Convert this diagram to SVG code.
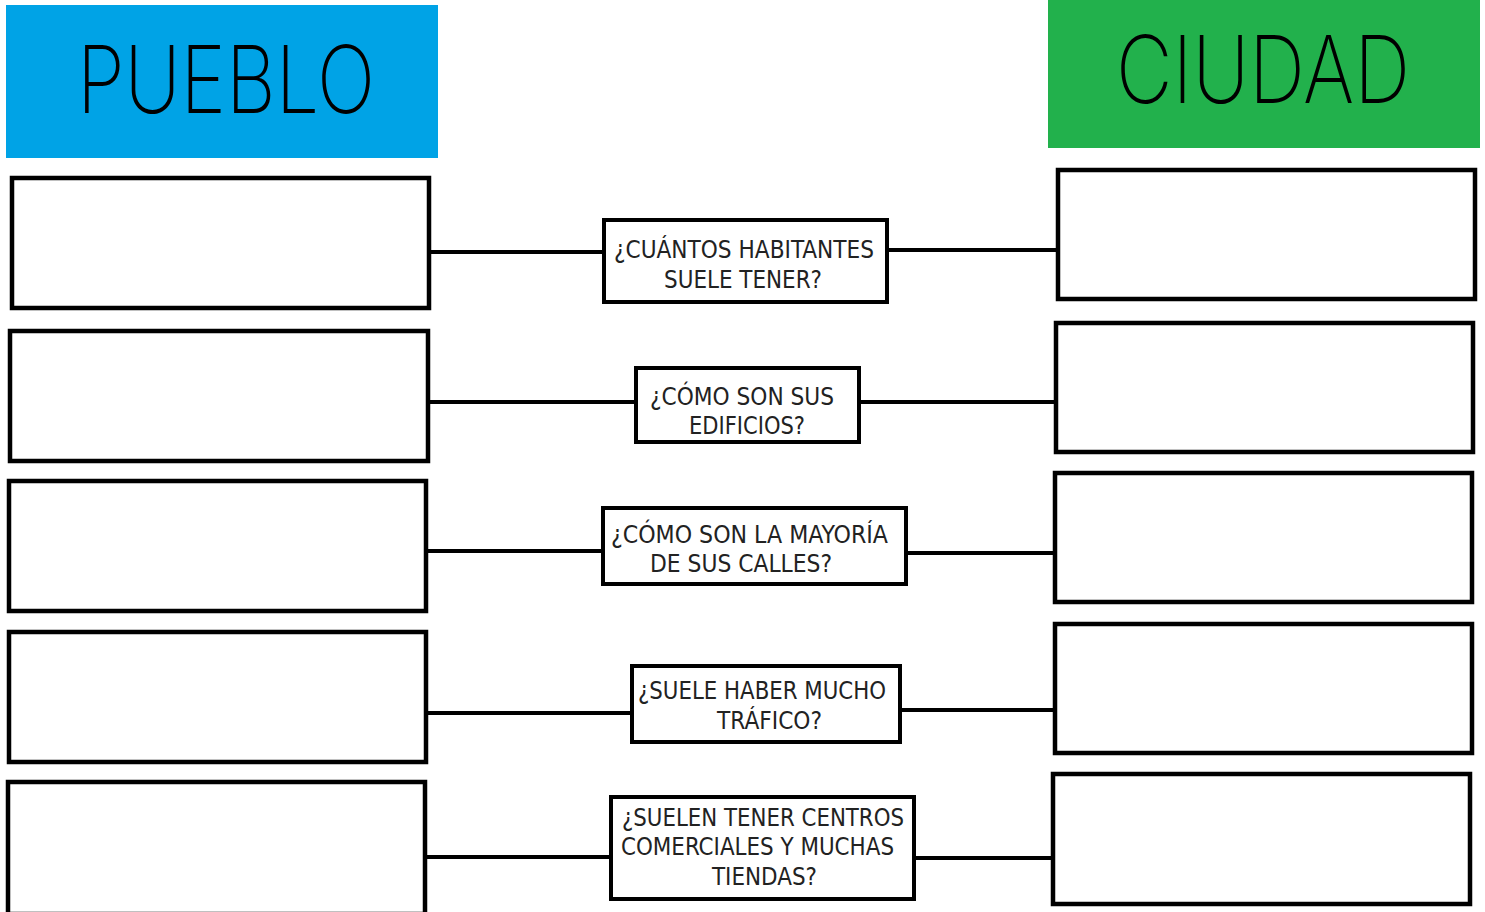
<svg xmlns="http://www.w3.org/2000/svg" width="1485" height="912" viewBox="0 0 1485 912">
<style>
.box{fill:#fff;stroke:#000;stroke-width:4.5}
.q{fill:#fff;stroke:#000;stroke-width:4}
.ln{stroke:#000;stroke-width:4;fill:none}
.t{font-family:"DejaVu Sans Condensed","DejaVu Sans","Liberation Sans",sans-serif;font-stretch:condensed;font-size:24px;fill:#222}
.h{font-family:Inter,"DejaVu Sans Condensed","Liberation Sans",sans-serif;font-weight:200;font-size:94px;fill:#000}
</style>
<rect width="1485" height="912" fill="#fff"/>
<g id="header-pueblo">
<rect x="6" y="5" width="432" height="153" fill="#00A3E6"/>
<text class="h" x="77" y="113" textLength="298" lengthAdjust="spacingAndGlyphs">PUEBLO</text>
</g>
<g id="header-ciudad">
<rect x="1048" y="0" width="432" height="148" fill="#22B14C"/>
<text class="h" x="1116" y="103" textLength="294" lengthAdjust="spacingAndGlyphs">CIUDAD</text>
</g>
<g id="connectors">
<line class="ln" x1="430" y1="252" x2="604" y2="252"/>
<line class="ln" x1="887" y1="250" x2="1058" y2="250"/>
<line class="ln" x1="428" y1="402" x2="636" y2="402"/>
<line class="ln" x1="859" y1="402" x2="1056" y2="402"/>
<line class="ln" x1="426" y1="551" x2="603" y2="551"/>
<line class="ln" x1="906" y1="553" x2="1060" y2="553"/>
<line class="ln" x1="426" y1="713" x2="632" y2="713"/>
<line class="ln" x1="900" y1="710" x2="1058" y2="710"/>
<line class="ln" x1="425" y1="857" x2="611" y2="857"/>
<line class="ln" x1="914" y1="858" x2="1052" y2="858"/>
</g>
<g id="pueblo-1"><rect class="box" x="12" y="178" width="417" height="130"/></g>
<g id="pueblo-2"><rect class="box" x="10" y="331" width="418" height="130"/></g>
<g id="pueblo-3"><rect class="box" x="9" y="481" width="417" height="130"/></g>
<g id="pueblo-4"><rect class="box" x="9" y="632" width="417" height="130"/></g>
<g id="pueblo-5"><rect class="box" x="8" y="782" width="417" height="132"/></g>
<g id="ciudad-1"><rect class="box" x="1058" y="170" width="417" height="129"/></g>
<g id="ciudad-2"><rect class="box" x="1056" y="323" width="417" height="129"/></g>
<g id="ciudad-3"><rect class="box" x="1055" y="473" width="417" height="129"/></g>
<g id="ciudad-4"><rect class="box" x="1055" y="624" width="417" height="129"/></g>
<g id="ciudad-5"><rect class="box" x="1053" y="774" width="417" height="130"/></g>
<g id="q1">
<rect class="q" x="604" y="220" width="283" height="82"/>
<text class="t" x="614" y="258" textLength="260" lengthAdjust="spacingAndGlyphs">¿CUÁNTOS HABITANTES</text>
<text class="t" x="664" y="288" textLength="158" lengthAdjust="spacingAndGlyphs">SUELE TENER?</text>
</g>
<g id="q2">
<rect class="q" x="636" y="368" width="223" height="74"/>
<text class="t" x="650" y="405" textLength="184" lengthAdjust="spacingAndGlyphs">¿CÓMO SON SUS</text>
<text class="t" x="689" y="434" textLength="116" lengthAdjust="spacingAndGlyphs">EDIFICIOS?</text>
</g>
<g id="q3">
<rect class="q" x="603" y="508" width="303" height="76"/>
<text class="t" x="611" y="543" textLength="277" lengthAdjust="spacingAndGlyphs">¿CÓMO SON LA MAYORÍA</text>
<text class="t" x="650" y="572" textLength="182" lengthAdjust="spacingAndGlyphs">DE SUS CALLES?</text>
</g>
<g id="q4">
<rect class="q" x="632" y="666" width="268" height="76"/>
<text class="t" x="638" y="699" textLength="248" lengthAdjust="spacingAndGlyphs">¿SUELE HABER MUCHO</text>
<text class="t" x="717" y="729" textLength="105" lengthAdjust="spacingAndGlyphs">TRÁFICO?</text>
</g>
<g id="q5">
<rect class="q" x="611" y="797" width="303" height="102"/>
<text class="t" x="622" y="826" textLength="282" lengthAdjust="spacingAndGlyphs">¿SUELEN TENER CENTROS</text>
<text class="t" x="621" y="855" textLength="273" lengthAdjust="spacingAndGlyphs">COMERCIALES Y MUCHAS</text>
<text class="t" x="712" y="885" textLength="105" lengthAdjust="spacingAndGlyphs">TIENDAS?</text>
</g>
</svg>
